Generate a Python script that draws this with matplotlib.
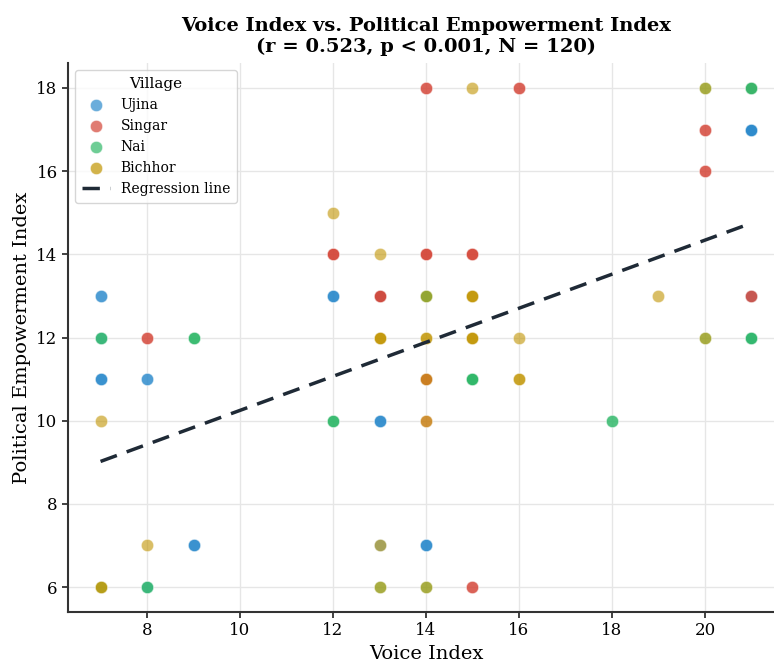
import matplotlib
matplotlib.use("Agg")
import matplotlib.pyplot as plt
import numpy as np

plt.rcParams['font.family'] = ['DejaVu Serif']

villages = ["Ujina", "Singar", "Nai", "Bichhor"]
colors = ["#2d8bcc", "#d44537", "#30b869", "#c19400"]

# (voice, empowerment, count) per village
ujina_pts = [(7, 13, 2), (7, 12, 1), (7, 11, 3), (8, 11, 2), (8, 6, 1), (9, 7, 3),
             (12, 13, 3), (13, 10, 3), (13, 7, 1), (14, 7, 3), (21, 17, 5),
             (21, 13, 1), (21, 12, 1), (13, 13, 1)]
singar_pts = [(8, 12, 2), (12, 14, 3), (13, 13, 3), (14, 18, 2), (14, 14, 3),
              (14, 11, 2), (14, 10, 1), (15, 14, 3), (15, 6, 2), (16, 18, 2),
              (20, 17, 2), (20, 16, 2), (21, 18, 1), (21, 13, 2)]
nai_pts = [(7, 12, 2), (8, 6, 2), (9, 12, 3), (12, 10, 3), (13, 6, 1), (14, 13, 2),
           (15, 11, 5), (18, 10, 2), (20, 18, 1), (21, 18, 3), (21, 12, 3),
           (7, 6, 1), (14, 6, 1), (20, 12, 1)]
bichhor_pts = [(7, 10, 1), (7, 6, 2), (8, 7, 1), (12, 15, 1), (13, 14, 1), (13, 12, 3),
               (13, 7, 1), (13, 6, 1), (14, 13, 1), (14, 12, 2), (14, 11, 1),
               (14, 10, 1), (14, 6, 1), (15, 18, 1), (15, 13, 3), (15, 12, 3),
               (16, 12, 1), (16, 11, 2), (19, 13, 1), (20, 18, 1), (20, 12, 1)]

# regression line
reg_x = [7, 21]
reg_y = [9.02, 14.75]

title = "Voice Index vs. Political Empowerment Index\n(r = 0.523, p < 0.001, N = 120)"

fig = plt.figure(figsize=(7.74, 6.66), dpi=100)
ax = fig.add_axes([68/774, 54/666, (784-68)/774, 549/666])

for name, pts, c in zip(villages, [ujina_pts, singar_pts, nai_pts, bichhor_pts], colors):
    xs = np.repeat([p[0] for p in pts], [p[2] for p in pts])
    ys = np.repeat([p[1] for p in pts], [p[2] for p in pts])
    ax.scatter(xs, ys, s=80, color=c, alpha=0.6, edgecolors='white', linewidths=0.6,
               label=name, zorder=3)

ax.plot(reg_x, reg_y, linestyle='--', color='#1f2a36', linewidth=2.5,
        dashes=(5, 3), label='Regression line', zorder=4)

ax.set_xlim(6.3, 21.7)
ax.set_ylim(5.4, 18.6)
ax.set_xticks([8, 10, 12, 14, 16, 18, 20])
ax.set_yticks([6, 8, 10, 12, 14, 16, 18])
ax.grid(True, color='#e6e6e6', linewidth=1.0, zorder=0)
ax.set_axisbelow(True)
for s in ['top', 'right']:
    ax.spines[s].set_visible(False)
for s in ['left', 'bottom']:
    ax.spines[s].set_linewidth(1.5)
    ax.spines[s].set_color('#333333')
ax.tick_params(labelsize=12, width=1.3, length=4, color='#333333')

ax.set_xlabel("Voice Index", fontsize=14)
ax.set_ylabel("Political Empowerment Index", fontsize=14)
ax.set_title(title, fontsize=14, fontweight='bold', pad=8)

leg = ax.legend(title="Village", loc='upper left', fontsize=10, title_fontsize=11,
                frameon=True, fancybox=True, borderpad=0.5)
leg.get_frame().set_edgecolor('#cccccc')
for h in leg.legend_handles[:4]:
    h.set_alpha(0.7)

fig.savefig("out.png", dpi=100)
